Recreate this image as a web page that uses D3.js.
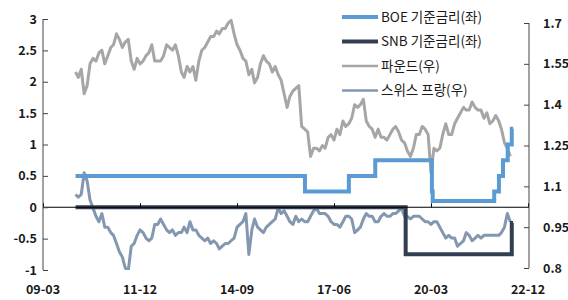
<!DOCTYPE html>
<meta charset="utf-8">
<title>BOE / SNB</title>
<style>
  body { margin: 0; background: #fff; }
  text { font-family: "Noto Sans CJK KR", "Noto Sans", sans-serif; }
</style>
<body>
<div id="chart"></div>
<script src="https://d3js.org/d3.v7.min.js"></script>
<script>
// ---- data ----
const xTickLabels = ["09-03", "11-12", "14-09", "17-06", "20-03", "22-12"];
const leftTicks = [-1, -0.5, 0, 0.5, 1, 1.5, 2, 2.5, 3];
const rightTicks = [0.8, 0.95, 1.1, 1.25, 1.4, 1.55, 1.7];

// monthly series, 2010-02 .. 2022-06
const firstMonth = "2010-02";
const gbp = [
  1.52,1.50,1.53,1.44,1.47,1.55,1.57,1.56,1.59,1.60,1.55,
  1.58,1.61,1.62,1.66,1.64,1.61,1.63,1.64,1.56,1.53,1.57,1.55,
  1.56,1.58,1.59,1.62,1.56,1.56,1.56,1.58,1.62,1.61,1.60,1.62,
  1.58,1.52,1.50,1.54,1.52,1.54,1.49,1.56,1.60,1.61,1.63,1.65,
  1.65,1.67,1.66,1.68,1.68,1.70,1.71,1.66,1.62,1.60,1.57,1.56,
  1.51,1.53,1.48,1.50,1.55,1.58,1.56,1.55,1.52,1.54,1.51,1.49,
  1.44,1.39,1.43,1.45,1.46,1.47,1.32,1.31,1.30,1.21,1.24,1.24,
  1.23,1.25,1.24,1.28,1.29,1.27,1.31,1.29,1.34,1.32,1.33,1.35,
  1.40,1.39,1.40,1.42,1.34,1.32,1.31,1.28,1.31,1.28,1.28,1.27,
  1.29,1.31,1.32,1.30,1.27,1.26,1.23,1.21,1.24,1.29,1.29,1.32,
  1.31,1.29,1.15,1.24,1.23,1.24,1.29,1.33,1.29,1.29,1.33,1.35,
  1.37,1.39,1.38,1.38,1.41,1.39,1.38,1.38,1.35,1.37,1.33,1.34,
  1.36,1.34,1.31,1.26,1.24,1.21
];
const chf = [
  1.07,1.06,1.07,1.15,1.12,1.05,1.02,0.99,0.97,1.00,0.95,
  0.95,0.93,0.92,0.89,0.86,0.84,0.80,0.79,0.88,0.89,0.92,0.94,
  0.93,0.91,0.90,0.91,0.96,0.96,0.98,0.96,0.94,0.93,0.94,0.92,
  0.93,0.93,0.95,0.93,0.97,0.94,0.94,0.92,0.91,0.90,0.91,0.89,
  0.90,0.89,0.87,0.88,0.89,0.89,0.90,0.91,0.95,0.96,0.97,1.00,
  0.85,0.94,0.98,0.95,0.94,0.93,0.95,0.96,0.97,0.98,1.02,1.00,
  1.01,0.99,0.97,0.96,0.99,0.97,0.98,0.97,0.97,0.99,1.01,1.02,
  1.00,1.00,1.00,0.99,0.97,0.96,0.96,0.95,0.97,0.99,0.99,0.98,
  0.93,0.94,0.95,0.98,1.00,0.99,0.99,0.97,0.97,0.99,1.00,0.99,
  0.99,1.00,1.00,1.01,1.02,0.99,0.99,0.98,0.99,0.99,0.99,0.98,
  0.97,0.97,0.96,0.97,0.97,0.95,0.93,0.91,0.92,0.91,0.91,0.88,
  0.89,0.90,0.93,0.92,0.90,0.91,0.92,0.91,0.92,0.92,0.92,0.92,
  0.92,0.92,0.93,0.95,1.00,0.97
];

// policy rates as step changes (date, rate)
const boeDates = ["2010-02-01","2016-08-04","2017-11-02","2018-08-02","2020-03-11","2020-03-19",
                  "2021-12-16","2022-02-03","2022-03-17","2022-05-05","2022-06-16","2022-06-30"];
const boeRates = [0.5, 0.25, 0.5, 0.75, 0.25, 0.1, 0.25, 0.5, 0.75, 1.0, 1.25, 1.25];
const snbDates = ["2010-02-01","2019-06-13","2022-06-16","2022-06-30"];
const snbRates = [0, -0.75, -0.25, -0.25];

const legendLabels = ["BOE 기준금리(좌)", "SNB 기준금리(좌)", "파운드(우)", "스위스 프랑(우)"];
const colors = ["#5b9bd5", "#323f52", "#a6a6a6", "#8497b0"];

// ---- chart ----
const width = 568, height = 300;
const svg = d3.select("#chart").append("svg")
  .attr("width", width).attr("height", height);

const parse = d3.timeParse("%Y-%m-%d");
const monthParse = d3.timeParse("%Y-%m");
const start = monthParse(firstMonth);
const months = gbp.map((d, i) => d3.timeMonth.offset(start, i));

const x = d3.scaleTime()
  .domain([monthParse("2009-03"), monthParse("2022-12")])
  .range([43, 528]);
const yL = d3.scaleLinear().domain([-1, 3]).range([270, 19]);
const yR = d3.scaleLinear().domain([0.8, 1.7]).range([268, 23]);

svg.append("defs").append("clipPath").attr("id", "plot")
  .append("rect").attr("x", 43).attr("y", 15).attr("width", 486).attr("height", 255);

const plot = svg.append("g").attr("clip-path", "url(#plot)");

// zero line with x ticks
svg.append("line")
  .attr("x1", 43).attr("x2", 529)
  .attr("y1", yL(0)).attr("y2", yL(0))
  .attr("stroke", "#000").attr("stroke-width", 1);

const xTickDates = xTickLabels.map(s => parse("20" + s + "-01"));
const xAxis = svg.append("g")
  .attr("transform", `translate(0,${yL(0)})`)
  .call(d3.axisTop(x).tickValues(xTickDates).tickSize(4).tickFormat(""));
xAxis.select(".domain").remove();
xAxis.selectAll("line").attr("stroke", "#000");

// x labels at the bottom
svg.append("g").selectAll("text")
  .data(xTickDates)
  .join("text")
  .attr("x", d => x(d))
  .attr("y", 294)
  .attr("text-anchor", "middle")
  .attr("font-size", 12.5)
  .attr("font-weight", "bold")
  .attr("fill", "#1a1a1a")
  .text((d, i) => xTickLabels[i]);

// left axis
const gL = svg.append("g")
  .attr("transform", "translate(43,0)")
  .call(d3.axisRight(yL).tickValues(leftTicks).tickSize(5).tickFormat(d => d));
gL.select(".domain").attr("d", `M0,${yL(3)}V${yL(-1)}`).attr("stroke", "#444");
gL.selectAll(".tick line").attr("stroke", "#444");
gL.selectAll("text")
  .attr("x", -6).attr("text-anchor", "end")
  .attr("font-size", 12.5).attr("font-weight", "bold").attr("fill", "#1a1a1a");

// right axis
const gR = svg.append("g")
  .attr("transform", "translate(529,0)")
  .call(d3.axisLeft(yR).tickValues(rightTicks).tickSize(5).tickFormat(d => d));
gR.select(".domain").attr("d", `M0,${yR(1.7)}V${yR(0.8)}`).attr("stroke", "#444");
gR.selectAll(".tick line").attr("stroke", "#444");
gR.selectAll("text")
  .attr("x", 14).attr("text-anchor", "start")
  .attr("font-size", 12.5).attr("font-weight", "bold").attr("fill", "#1a1a1a");

// fx lines
const lineR = d3.line().x((d, i) => x(months[i])).y(d => yR(d));
plot.append("path").datum(gbp)
  .attr("d", lineR).attr("fill", "none")
  .attr("stroke", colors[2]).attr("stroke-width", 3).attr("stroke-linejoin", "round");
plot.append("path").datum(chf)
  .attr("d", lineR).attr("fill", "none")
  .attr("stroke", colors[3]).attr("stroke-width", 3).attr("stroke-linejoin", "round");

// rate step lines
const stepL = d3.line().curve(d3.curveStepAfter)
  .x(d => x(parse(d[0]))).y(d => yL(d[1]));
plot.append("path").datum(d3.zip(boeDates, boeRates))
  .attr("d", stepL).attr("fill", "none")
  .attr("stroke", colors[0]).attr("stroke-width", 4);
plot.append("path").datum(d3.zip(snbDates, snbRates))
  .attr("d", stepL).attr("fill", "none")
  .attr("stroke", colors[1]).attr("stroke-width", 4);

// legend
const legend = svg.append("g").attr("transform", "translate(342,17)");
const item = legend.selectAll("g")
  .data(legendLabels)
  .join("g")
  .attr("transform", (d, i) => `translate(0,${i * 24.5})`);
item.append("line")
  .attr("x1", 0).attr("x2", 36).attr("y1", 0).attr("y2", 0)
  .attr("stroke", (d, i) => colors[i])
  .attr("stroke-width", (d, i) => i < 2 ? 4 : 2.5);
item.append("text")
  .attr("x", 39).attr("y", 0).attr("dy", "0.35em")
  .attr("font-size", 13.5)
  .attr("fill", "#1a1a1a")
  .text(d => d);
</script>
</body>
